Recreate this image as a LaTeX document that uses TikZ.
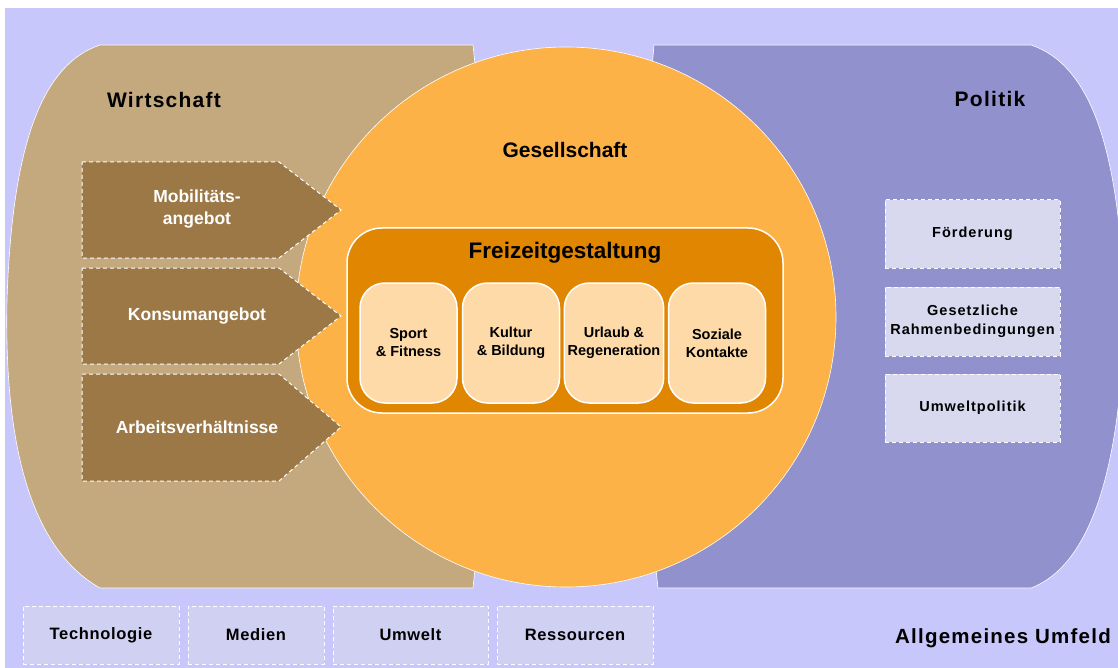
\documentclass[tikz,border=0pt]{standalone}
\usepackage{fontspec}
\setmainfont{Liberation Sans}
\newfontfamily\weitfont[LetterSpace=6]{Liberation Sans}
\newfontfamily\boxfont[LetterSpace=7]{Liberation Sans}
\newfontfamily\umfeldfont[LetterSpace=4]{Liberation Sans}
\definecolor{umfeld}{RGB}{199,199,251}
\definecolor{wirtschaft}{RGB}{196,168,126}
\definecolor{braun}{RGB}{155,120,70}
\definecolor{politik}{RGB}{145,145,206}
\definecolor{gesellschaft}{RGB}{253,178,72}
\definecolor{freizeit}{RGB}{224,134,0}
\definecolor{hellorange}{RGB}{253,218,168}
\definecolor{polfeld}{RGB}{216,216,238}
\definecolor{umfeldbox}{RGB}{208,208,242}

\begin{document}
\begin{tikzpicture}[x=1pt,y=-1pt,
		rand/.style={draw=white, line width=0.6pt},
		gestrichelt/.style={draw=white, line width=1pt, dash pattern=on 4pt off 3pt},
		pfeiltext/.style={text=white, font=\fontsize{17.5}{22}\selectfont\bfseries, align=center},
		titel/.style={font=\fontsize{21}{24}\selectfont\weitfont\bfseries},
		baustein/.style={rectangle, rounded corners=25pt, fill=hellorange, draw=white, line width=1.5pt, minimum width=97pt, minimum height=120pt, align=center, font=\fontsize{14.5}{18}\selectfont\bfseries},
		polbox/.style={rectangle, fill=polfeld, gestrichelt, minimum width=175pt, align=center, font=\fontsize{14.5}{19}\selectfont\boxfont\bfseries},
		umfeldbox/.style={rectangle, fill=umfeldbox, gestrichelt, minimum height=58pt, font=\fontsize{16.5}{20}\selectfont\umfeldfont\bfseries}]
	\useasboundingbox (0,0) rectangle (1118,668);
	\fill[white] (0,0) rectangle (1118,668);
	\fill[umfeld] (5,8) rectangle (1118,668);
	\filldraw[wirtschaft, rand] (100,45) -- (473,45) .. controls (490,200) and (490,430) .. (473,588) -- (100,588)
		.. controls (15,540) and (5,400) .. (7,300) .. controls (12,150) and (40,65) .. (100,45) -- cycle;
	\filldraw[politik, rand] (654,45) -- (1031,45) .. controls (1091,65) and (1119,150) .. (1124,300)
		.. controls (1124,420) and (1105,560) .. (1031,588) -- (658,588) .. controls (640,430) and (640,200) .. (654,45) -- cycle;
	\filldraw[gesellschaft, rand] (566,317) circle (270);
	\filldraw[braun, gestrichelt] (82,162) -- (279,162) -- (341,210) -- (279,258) -- (82,258) -- cycle;
	\filldraw[braun, gestrichelt] (82,268) -- (279,268) -- (341,316) -- (279,364) -- (82,364) -- cycle;
	\filldraw[braun, gestrichelt] (82,374) -- (279,374) -- (341,427) -- (279,481) -- (82,481) -- cycle;
	\node[pfeiltext] (mobilitaet) at (197,209) {Mobilitäts-\\angebot};
	\node[pfeiltext] (konsum) at (197,316) {Konsumangebot};
	\node[pfeiltext] (arbeit) at (197,427) {Arbeitsverhältnisse};
	\node[titel] (wirtschaftlabel) at (164,100) {Wirtschaft};
	\node[titel] (politiklabel) at (990,99) {Politik};
	\node[titel, font=\fontsize{21}{24}\selectfont\bfseries] (gesellschaftlabel) at (565,150) {Gesellschaft};
	\node[titel, font=\fontsize{20.5}{24}\selectfont\weitfont\bfseries] (umfeldlabel) at (1003,638) {Allgemeines Umfeld};
	\node[rectangle, rounded corners=35pt, fill=freizeit, draw=white, line width=1.5pt, minimum width=436pt, minimum height=185pt] (freizeitbox) at (565,320.5) {};
	\node[font=\fontsize{22.5}{26}\selectfont\bfseries] (freizeitlabel) at (565,253) {Freizeitgestaltung};
	\node[baustein] (sport) at (408.5,343) {Sport\\\& Fitness};
	\node[baustein] (kultur) at (511,343) {Kultur\\\& Bildung};
	\node[baustein] (urlaub) at (614,343) {Urlaub \&\\Regeneration};
	\node[baustein] (soziales) at (717,343) {Soziale\\Kontakte};
	\node[polbox, minimum height=68pt] (foerderung) at (972.5,234) {Förderung};
	\node[polbox, minimum height=69pt] (gesetze) at (972.5,321.5) {Gesetzliche\\Rahmenbedingungen};
	\node[polbox, minimum height=68pt] (umweltpolitik) at (972.5,408) {Umweltpolitik};
	\node[umfeldbox, minimum width=156pt] (technologie) at (101,635) {Technologie};
	\node[umfeldbox, minimum width=136pt] (medien) at (256,635) {Medien};
	\node[umfeldbox, minimum width=155pt] (umwelt) at (410.5,635) {Umwelt};
	\node[umfeldbox, minimum width=156pt] (ressourcen) at (575,635) {Ressourcen};
\end{tikzpicture}
\end{document}
